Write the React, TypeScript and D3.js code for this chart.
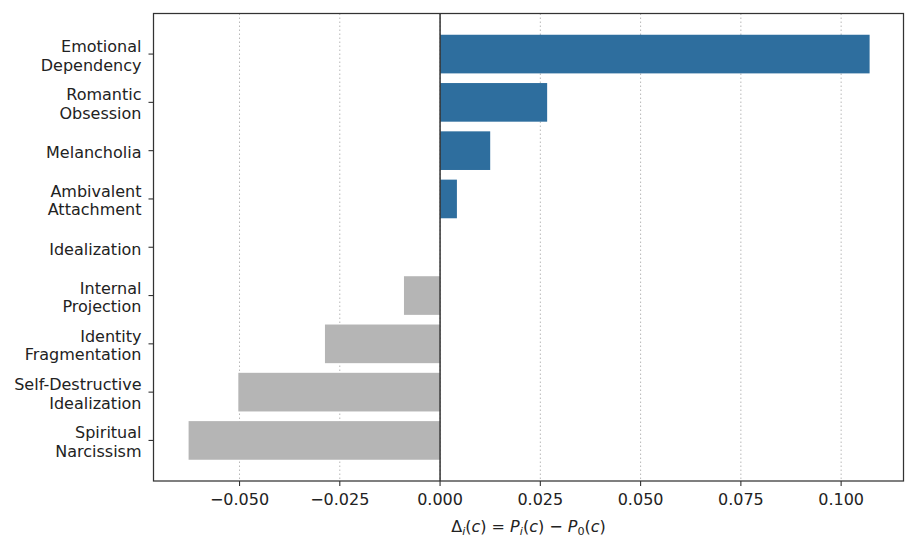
import React from "react";
import * as d3 from "d3";

const categories = [
  "Emotional\nDependency",
  "Romantic\nObsession",
  "Melancholia",
  "Ambivalent\nAttachment",
  "Idealization",
  "Internal\nProjection",
  "Identity\nFragmentation",
  "Self-Destructive\nIdealization",
  "Spiritual\nNarcissism",
];
const values = [0.1071, 0.0267, 0.0125, 0.0042, 0.0, -0.009, -0.0287, -0.0503, -0.0627];
const xTicks = [-0.05, -0.025, 0, 0.025, 0.05, 0.075, 0.1];

const W = 917, H = 550;
const L = 153.5, R = 903.5, T = 13.5, B = 481;
const FONT = "'DejaVu Sans', sans-serif";

export default function App() {
  const x = d3.scaleLinear().domain([-0.07145, 0.11555]).range([L, R]);
  const n = categories.length;
  const y = d3.scaleLinear().domain([-0.84, n - 1 + 0.84]).range([T, B]);
  const bh = (y(0.4) - y(-0.4));
  const fs = 16;
  const lh = 18.5;
  return (
    <svg width={W} height={H} style={{ position: "absolute", left: 0, top: 0, background: "#fff" }} fontFamily={FONT}>
      {xTicks.map((t, i) => (
        <line key={"g" + i} x1={x(t)} x2={x(t)} y1={T} y2={B} stroke="#b8b8b8" strokeWidth={1} strokeDasharray="1.5,2.5" />
      ))}
      {values.map((v, i) => (
        <rect key={"b" + i}
          x={Math.min(x(v), x(0))} width={Math.abs(x(v) - x(0))}
          y={y(i) - bh / 2} height={bh}
          fill={v > 0 ? "#2e6e9e" : "#b5b5b5"} />
      ))}
      <line x1={x(0)} x2={x(0)} y1={T} y2={B} stroke="#333" strokeWidth={1.5} />
      <rect x={L} y={T} width={R - L} height={B - T} fill="none" stroke="#333" strokeWidth={1.25} />
      {xTicks.map((t, i) => (
        <g key={"xt" + i}>
          <line x1={x(t)} x2={x(t)} y1={B} y2={B + 5} stroke="#333" strokeWidth={1.1} />
          <text x={x(t)} y={B + 24} textAnchor="middle" fontSize={fs} fill="#222">
            {d3.format(".3f")(t).replace("-", "\u2212")}
          </text>
        </g>
      ))}
      {categories.map((c, i) => {
        const lines = c.split("\n");
        const y0 = y(i) - ((lines.length - 1) * lh) / 2 + 1.5;
        return (
          <g key={"yt" + i}>
            <line x1={L - 5} x2={L} y1={y(i)} y2={y(i)} stroke="#333" strokeWidth={1.1} />
            {lines.map((s, j) => (
              <text key={j} x={L - 12} y={y0 + j * lh} dy="0.36em" textAnchor="end" fontSize={fs} fill="#222">{s}</text>
            ))}
          </g>
        );
      })}
      <text x={(L + R) / 2} y={532} textAnchor="middle" fontSize={fs} fill="#222">
        <tspan>Δ</tspan><tspan fontStyle="italic" fontSize={fs * 0.7} dy="3">i</tspan>
        <tspan dy="-3">(</tspan><tspan fontStyle="italic">c</tspan><tspan>) = </tspan>
        <tspan fontStyle="italic">P</tspan><tspan fontStyle="italic" fontSize={fs * 0.7} dy="3">i</tspan>
        <tspan dy="-3">(</tspan><tspan fontStyle="italic">c</tspan><tspan>) − </tspan>
        <tspan fontStyle="italic">P</tspan><tspan fontSize={fs * 0.7} dy="3">0</tspan>
        <tspan dy="-3">(</tspan><tspan fontStyle="italic">c</tspan><tspan>)</tspan>
      </text>
    </svg>
  );
}
